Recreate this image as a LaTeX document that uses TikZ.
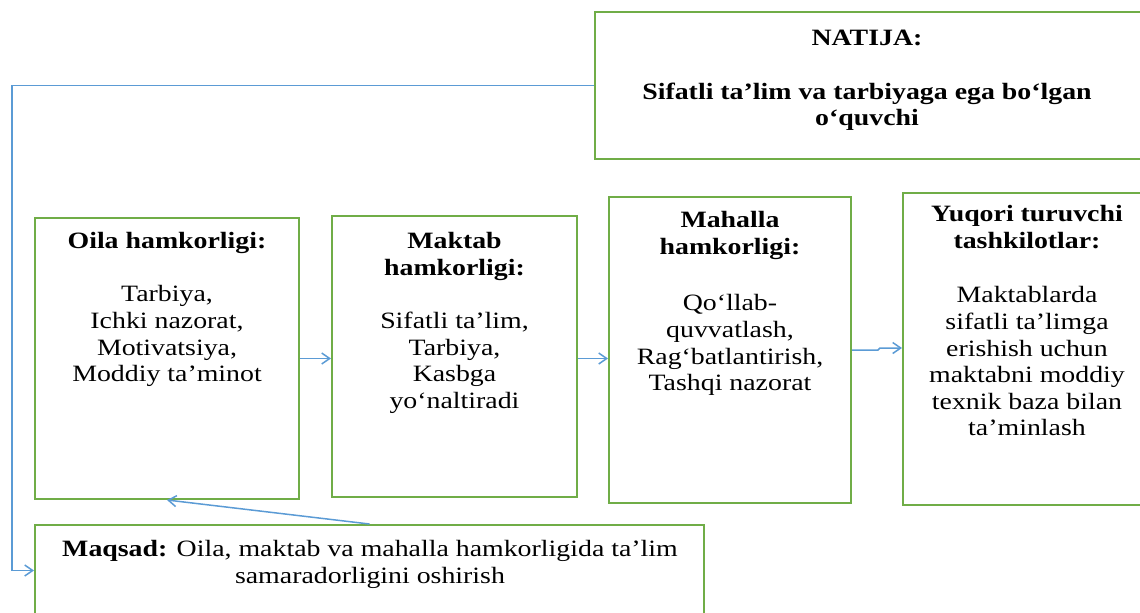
\documentclass[tikz,border=0pt]{standalone}
\usepackage{fontspec}
\setmainfont{Liberation Serif}[FakeStretch=1.19]
\usetikzlibrary{arrows.meta,fit,calc}
\definecolor{boxgreen}{RGB}{112,173,71}
\definecolor{lineblue}{RGB}{91,155,213}
\begin{document}
\begin{tikzpicture}[x=0.5pt,y=-0.5pt,
  box/.style={draw=boxgreen,line width=1pt,inner sep=0pt},
  txt/.style={align=center,inner sep=0pt,anchor=north,font=\fontsize{11.7}{13.3}\selectfont},
  conn/.style={draw=lineblue,line width=0.75pt,-{Straight Barb[length=4pt,width=5.5pt]}}]
\useasboundingbox (0,0) rectangle (1140,612);
\clip (0,0) rectangle (1140,612);
% boxes
\node[box,fit={(595,12) (1143,159)}] (natija) {};
\node[box,fit={(35,218) (299,499)}] (oila) {};
\node[box,fit={(332,216) (577,497)}] (maktab) {};
\node[box,fit={(609,197) (851,503)}] (mahalla) {};
\node[box,fit={(903,193) (1146,505)}] (yuqori) {};
\node[box,fit={(35,525) (704,616)}] (maqsad) {};
% texts
\node[txt] (natijat) at (867,30) {\bfseries NATIJA:\\[13.3pt] \bfseries Sifatli ta’lim va tarbiyaga ega bo‘lgan\\ \bfseries o‘quvchi};
\node[txt] (oilat) at (167,232) {\bfseries Oila hamkorligi:\\[13.3pt] Tarbiya,\\ Ichki nazorat,\\ Motivatsiya,\\ Moddiy ta’minot};
\node[txt] (maktabt) at (454.5,232) {\bfseries Maktab\\ \bfseries hamkorligi:\\[13.3pt] Sifatli ta’lim,\\ Tarbiya,\\ Kasbga\\ yo‘naltiradi};
\node[txt] (mahallat) at (730,211) {\bfseries Mahalla\\ \bfseries hamkorligi:\\[15pt] Qo‘llab-\\ quvvatlash,\\ Rag‘batlantirish,\\ Tashqi nazorat};
\node[txt] (yuqorit) at (1027,205) {\bfseries Yuqori turuvchi\\ \bfseries tashkilotlar:\\[14pt] Maktablarda\\ sifatli ta’limga\\ erishish uchun\\ maktabni moddiy\\ texnik baza bilan\\ ta’minlash};
\node[txt] (maqsadt) at (370,540) {\textbf{Maqsad:} Oila, maktab va mahalla hamkorligida ta’lim\\ samaradorligini oshirish};
% connectors
\coordinate (bend) at (12,570.5);
\draw[conn] (natija.west) -| (bend) -- (maqsad.west);
\draw[conn] (oila.east) -- (oila.east -| maktab.west);
\draw[conn] (maktab.east |- oila.east) -- (oila.east -| mahalla.west);
\draw[conn] (mahalla.east) -- ++(26,0) -- ++(2,-2) -- ($(yuqori.west)+(0,-1)$);
\draw[conn] (maqsad.north) -- (oila.south);
\end{tikzpicture}
\end{document}
